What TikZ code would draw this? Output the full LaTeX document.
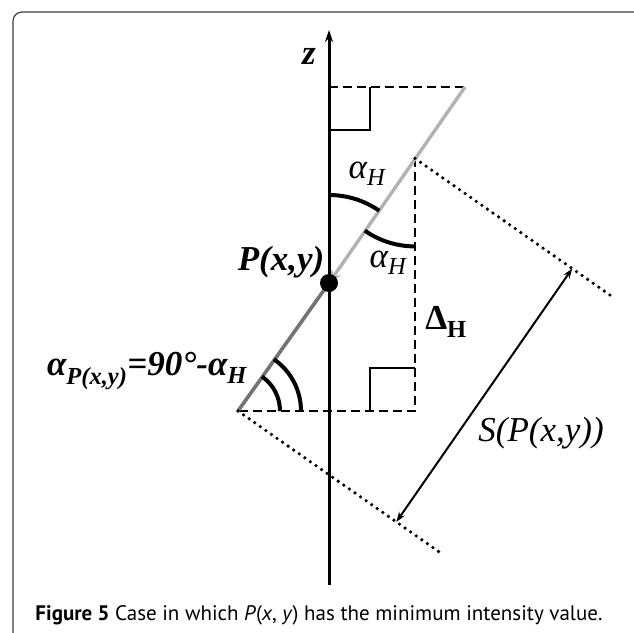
\documentclass[tikz,border=0pt]{standalone}
\usepackage{fontspec}
\setmainfont{Liberation Serif}
\newfontfamily\capfont{PT Sans}
\usepackage{tikz}
\usetikzlibrary{positioning,arrows.meta,calc}
\usepackage{xcolor}

\begin{document}
\begin{tikzpicture}[x=1pt,y=-1pt,>={Stealth[length=12pt,width=8pt]},
  lbl/.style={font=\fontsize{35}{36}\selectfont\bfseries\itshape,inner sep=0pt},
  ilbl/.style={font=\fontsize{35}{36}\selectfont\itshape,inner sep=0pt},
  dsh/.style={line width=2.8pt,dash pattern=on 9pt off 5pt},
  dots/.style={line width=3.6pt,line cap=round,dash pattern=on 0pt off 6.8pt},
  ang/.style={line width=4pt}]
\useasboundingbox (0,0) rectangle (634,632);
\draw[rounded corners=9pt,line width=1.2pt,black!75] (660,12) -- (13,12) -- (13,660);
% points of the figure
\coordinate (P) at (329,283);
\coordinate (T) at (465,87);
\coordinate (A) at (329,87);
\coordinate (B) at (238,411);
\coordinate (C) at (415,411);
\coordinate (D) at (415,158.4);
\coordinate (Zb) at (329,585);
\coordinate (Zt) at (329,30);
\coordinate (Du) at ($(D)+(196.5,137.7)$);
\coordinate (Bu) at ($(B)+(203,142.2)$);
\coordinate (Su) at ($(D)!0.8!(Du)$);
\coordinate (Sl) at ($(B)!0.78!(Bu)$);
% z axis
\draw[->,line width=3pt] (Zb) -- (Zt);
\node[lbl] (zlab) at (309,56) {z};
% dashed box lines
\draw[dsh] (A) -- (T);
\draw[dsh] (D) -- (C) -- (B);
\draw[line width=2.8pt] (329,130) -- (370,130) -- (370,87);
\draw[line width=2.8pt] (370,411) -- (370,368) -- (415,368);
% the line through P
\draw[black!30,line width=3.4pt,-{Stealth[length=13pt,width=11pt]}] (T) -- (P);
\draw[black!55,line width=3.6pt] (P) -- (B);
\fill (P) circle (9);
% angle arcs
\draw[ang] ($(P)+(270:88)$) arc (270:304.8:88);
\draw[ang] ($(D)+(90:88)$) arc (90:124.8:88);
\draw[ang] ($(B)+(0:42)$) arc (0:-55.2:42);
\draw[ang] ($(B)+(0:63)$) arc (0:-55.2:63);
% perpendiculars and distance
\draw[dots] (D) -- (Du);
\draw[dots] (B) -- (Bu);
\draw[<->,line width=2pt,>={Stealth[length=10pt,width=7pt]}] (Sl) -- (Su);
% labels
\node[ilbl] (ah1) at (367,174) {α\textsubscript{H}};
\node[ilbl] (ah2) at (388,263) {α\textsubscript{H}};
\node[lbl] (plab) at (281,262) {P(x,y)};
\node[lbl,font=\fontsize{35}{36}\selectfont\bfseries] (dlab) at (446,322) {Δ\textsubscript{H}};
\node[lbl] (alab) at (147,371) {α\textsubscript{P(x,y)}=90°-α\textsubscript{H}};
\node[ilbl] (slab) at (541,433) {S(P(x,y))};
\node[inner sep=0pt,font=\capfont\fontsize{21}{22}\selectfont] (cap) at (319,615)
  {\textbf{Figure 5} Case in which \textit{P}(\textit{x}, \textit{y}) has the minimum intensity value.};
\end{tikzpicture}
\end{document}
